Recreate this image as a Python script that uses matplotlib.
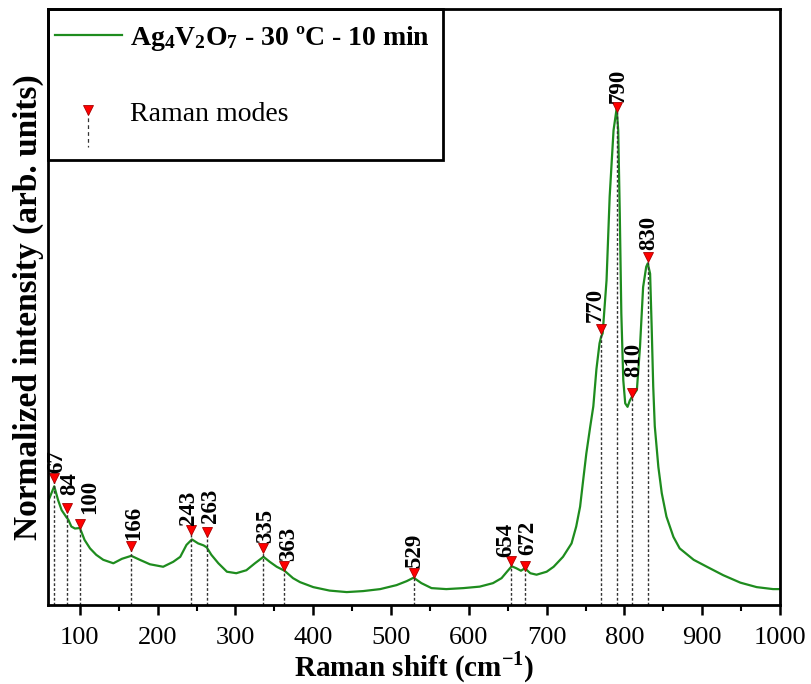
import matplotlib
matplotlib.use("Agg")
import matplotlib.pyplot as plt
from matplotlib.lines import Line2D
from matplotlib.patches import Rectangle
from matplotlib.legend_handler import HandlerBase

plt.rcParams['font.family'] = ['Liberation Serif', 'DejaVu Serif']
plt.rcParams['mathtext.fontset'] = 'custom'
plt.rcParams['mathtext.rm'] = 'Liberation Serif'
plt.rcParams['mathtext.bf'] = 'Liberation Serif:bold'

# Raman spectrum, normalized to the 790 cm-1 band
shift = [59, 67, 72, 76.5, 83, 85, 89, 93.6, 100, 106, 113, 121, 130, 143, 154,
         166, 177, 190, 207, 220, 229, 237, 244, 252, 259, 263, 269, 278, 289,
         301, 314, 325, 336, 344, 353, 363, 374, 383, 400, 421, 443, 464, 486,
         507, 520, 529, 539, 552, 571, 593, 614, 631, 642, 649, 655, 661, 667,
         672, 679, 687, 700, 709, 721, 732, 738, 743, 747, 751, 756, 760, 764,
         768, 770, 772, 777, 781, 786, 790, 792, 794, 796, 798.5, 801, 804, 807,
         810, 816, 820, 824, 828, 830, 833, 835, 837, 839, 843.6, 848, 854, 863,
         871, 889, 906, 927, 949, 970, 991, 1000]
intensity = [0.208, 0.239, 0.211, 0.191, 0.176, 0.172, 0.158, 0.154, 0.155,
             0.131, 0.114, 0.101, 0.091, 0.084, 0.093, 0.099, 0.091, 0.082,
             0.077, 0.087, 0.097, 0.121, 0.132, 0.124, 0.120, 0.116, 0.101,
             0.084, 0.067, 0.064, 0.070, 0.084, 0.097, 0.087, 0.077, 0.069,
             0.054, 0.046, 0.036, 0.029, 0.026, 0.028, 0.032, 0.040, 0.048,
             0.055, 0.044, 0.034, 0.032, 0.034, 0.037, 0.044, 0.054, 0.067,
             0.078, 0.074, 0.069, 0.074, 0.064, 0.061, 0.067, 0.077, 0.097,
             0.124, 0.158, 0.198, 0.252, 0.305, 0.359, 0.400, 0.475, 0.527,
             0.540, 0.547, 0.654, 0.822, 0.956, 1.000, 0.956, 0.789, 0.587,
             0.453, 0.406, 0.399, 0.412, 0.420, 0.433, 0.520, 0.640, 0.681,
             0.688, 0.667, 0.560, 0.440, 0.360, 0.278, 0.225, 0.178, 0.137,
             0.114, 0.091, 0.077, 0.060, 0.045, 0.036, 0.032, 0.032]

# assigned Raman modes and the height of their markers
modes = [67, 84, 100, 166, 243, 263, 335, 363, 529, 654, 672, 770, 790, 810, 830]
mode_y = [0.255, 0.196, 0.164, 0.119, 0.152, 0.146, 0.114, 0.078, 0.065,
          0.0885, 0.078, 0.555, 1.003, 0.426, 0.700]

series_label = r"$\mathbf{Ag_4V_2O_7}$ - 30 ºC - 10 min"

# nudges (points) so that neighbouring labels do not collide
label_nudge = [(1.5, 3.5), (1.5, 9), (7, 7), (1.5, 4), (-2, 3), (3, 7), (2, 4),
               (3, 4), (1, 3.5), (-3.5, 3), (2, 8), (-4.5, 5.5), (1, 3),
               (1, 12), (1, 5)]


class ModeHandler(HandlerBase):
    # red triangle sitting on a dashed drop line
    def create_artists(self, legend, orig, xdescent, ydescent, width, height,
                       fontsize, trans):
        cx = width / 2 - xdescent
        cy = height / 2 - ydescent
        stem = Line2D([cx, cx], [cy, cy - 26], ls=(0, (3, 2.5)), color='#333333',
                      lw=0.9, transform=trans)
        tri = Line2D([cx], [cy + 1], marker='v', ms=7.5, color='red', mec='#aa0000',
                     mew=0.6, ls='none', transform=trans)
        return [stem, tri]


fig = plt.figure(figsize=(8.11, 6.84), dpi=100)
ax = fig.add_axes([0.0592, 0.1155, 0.9026, 0.8713])

line, = ax.plot(shift, intensity, color='#1e8c1e', lw=1.6)
ax.vlines(modes, 0, mode_y, colors='#333333', linestyles=(0, (2, 1.5)), lw=1.0)
marks, = ax.plot(modes, mode_y, 'v', ms=7.5, color='red', mec='#aa0000', mew=0.6)

for m, h, (dx, dy) in zip(modes, mode_y, label_nudge):
    ax.annotate(str(m), (m, h), xytext=(dx, dy), textcoords='offset points',
                rotation=90, ha='center', va='bottom', fontsize=16.5,
                fontweight='bold')

ax.set_xlim(59, 1000)
ax.set_ylim(0, 1.2)
ax.set_xticks(range(100, 1001, 100))
ax.set_xticks(range(100, 1001, 50), minor=True)
ax.set_yticks([])
ax.tick_params(axis='x', which='major', direction='out', length=7, width=1.8,
               labelsize=19, pad=9)
ax.tick_params(axis='x', which='minor', direction='out', length=4, width=1.5)
for s in ax.spines.values():
    s.set_linewidth(2)

ax.set_xlabel(r"Raman shift (cm$^{\mathbf{-1}}$)", fontsize=21, fontweight='bold',
              labelpad=0)
ax.set_ylabel("Normalized intensity (arb. units)", fontsize=24,
              fontweight='bold', labelpad=3)

# legend box drawn against the top-left corner of the axes
ax.add_patch(Rectangle((0, 0.7466), 0.5396, 0.2534, transform=ax.transAxes,
                       fill=False, ec='black', lw=2, zorder=5, clip_on=False))
leg = ax.legend([line, marks], [series_label, "Raman modes"],
                handler_map={marks: ModeHandler()},
                loc='upper left', bbox_to_anchor=(0, 0.987), frameon=False,
                fontsize=20, handlelength=2.4, handletextpad=0.3,
                labelspacing=1.75, borderpad=0.25, borderaxespad=0)
leg.get_texts()[0].set_fontweight('bold')

fig.savefig("out.png", dpi=100)
